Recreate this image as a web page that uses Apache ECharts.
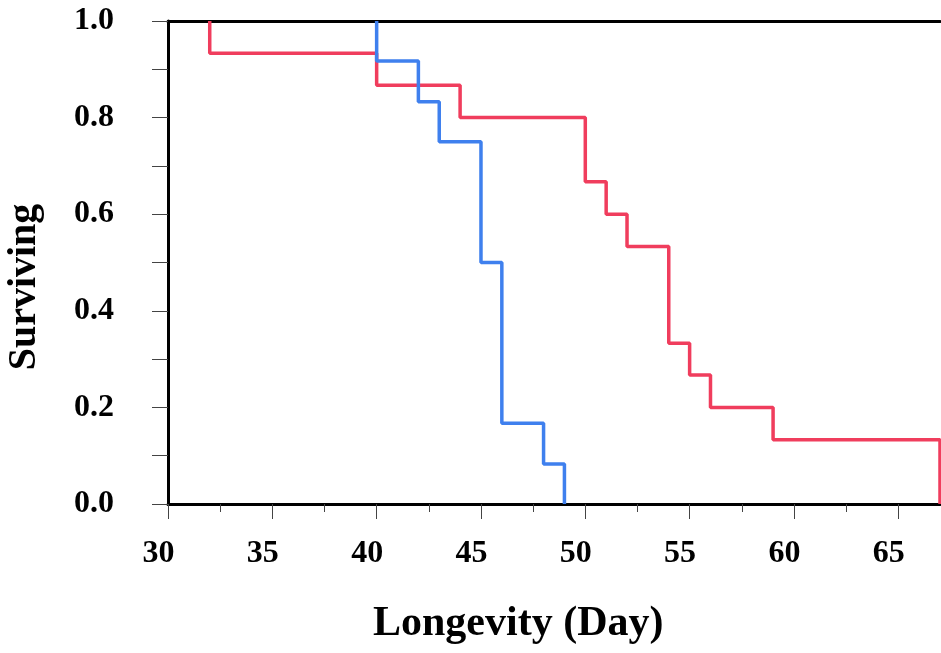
<!DOCTYPE html>
<html>
<head>
<meta charset="utf-8">
<script src="https://cdn.jsdelivr.net/npm/echarts@6/dist/echarts.min.js"></script>
<style>html,body{margin:0;padding:0;background:#fff}#c{width:941px;height:653px}</style>
</head>
<body>
<div id="c"></div>
<script>
// Kaplan-Meier style survival steps (first point duplicated for the initial drop)
const redTime  = [32, 32, 40, 44, 50, 51, 52, 54, 55, 56, 59, 67];
const redSurv  = [1.0, 0.933, 0.867, 0.8, 0.667, 0.6, 0.533, 0.333, 0.267, 0.2, 0.133, 0.0];
const blueTime = [40, 40, 42, 43, 45, 46, 48, 49];
const blueSurv = [1.0, 0.917, 0.833, 0.75, 0.5, 0.167, 0.083, 0.0];
const xMajorTicks = [30, 35, 40, 45, 50, 55, 60, 65];
const xMinorTicks = [32.5, 37.5, 42.5, 47.5, 52.5, 57.5, 62.5];
const xAxisTitle = 'Longevity (Day)';
const yAxisTitle = 'Surviving';

const FONT = "'Liberation Serif','Times New Roman',serif";
const chart = echarts.init(document.getElementById('c'), null, {renderer: 'canvas'});
const zip = (a, b) => a.map((v, i) => [v, b[i]]);

chart.setOption({
  animation: false,
  backgroundColor: '#fff',
  grid: {left: 168, right: 1, top: 21, bottom: 149, containLabel: false},
  xAxis: [
    {
      type: 'value', min: 30, max: 67, position: 'bottom',
      axisLine: {show: true, onZero: false, lineStyle: {color: '#000', width: 3}},
      axisTick: {show: true, customValues: xMajorTicks, length: 15, lineStyle: {color: '#444', width: 1}},
      axisLabel: {show: true, customValues: xMajorTicks, margin: 32, padding: [2, 19, 0, 0],
        fontFamily: FONT, fontWeight: 'bold', fontSize: 32, color: '#000'},
      splitLine: {show: false}
    },
    {
      type: 'value', min: 30, max: 67, position: 'bottom', gridIndex: 0,
      axisLine: {show: false, onZero: false},
      axisTick: {show: true, customValues: xMinorTicks, length: 8, lineStyle: {color: '#444', width: 1}},
      axisLabel: {show: false},
      splitLine: {show: false}
    },
    {
      type: 'value', min: 30, max: 67, position: 'top',
      axisLine: {show: true, onZero: false, lineStyle: {color: '#000', width: 3}},
      axisTick: {show: false}, axisLabel: {show: false}, splitLine: {show: false}
    }
  ],
  yAxis: {
    type: 'value', min: 0, max: 1, interval: 0.1,
    axisLine: {show: true, onZero: false, lineStyle: {color: '#000', width: 3}},
    axisTick: {show: true, length: 16, lineStyle: {color: '#444', width: 1}},
    axisLabel: {
      margin: 54, fontFamily: FONT, fontWeight: 'bold', fontSize: 32, color: '#000',
      padding: [12, 0, 0, 0],
      formatter: v => (Math.round(v * 10) % 2 === 0 ? v.toFixed(1) : '')
    },
    splitLine: {show: false}
  },
  graphic: [
    {type: 'text', left: 373, top: 603, style: {text: xAxisTitle, font: "bold 42px " + FONT, fill: '#000'}},
    {type: 'text', x: 25, y: 287, rotation: Math.PI / 2, style: {text: yAxisTitle, font: "bold 40px " + FONT, fill: '#000', align: 'center', verticalAlign: 'middle'}}
  ],
  series: [
    {
      type: 'line', step: 'end', data: zip(redTime, redSurv), symbol: 'none', clip: false,
      lineStyle: {color: '#f03d5d', width: 3.5}, xAxisIndex: 0
    },
    {
      type: 'line', step: 'end', data: zip(blueTime, blueSurv), symbol: 'none', clip: false,
      lineStyle: {color: '#3f80ee', width: 3.5}, xAxisIndex: 0
    }
  ]
});
</script>
</body>
</html>
